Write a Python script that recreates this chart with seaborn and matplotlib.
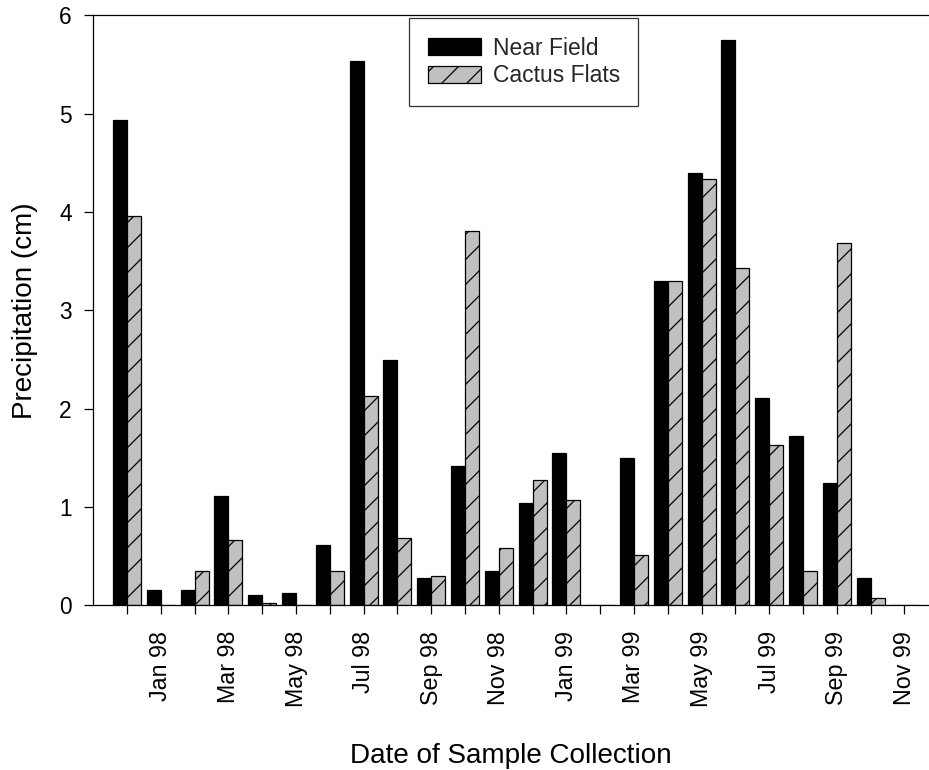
import matplotlib
matplotlib.use("Agg")
import matplotlib.pyplot as plt
from matplotlib.patches import Patch
import seaborn as sns
import pandas as pd

months = ["Dec 97", "Jan 98", "Feb 98", "Mar 98", "Apr 98", "May 98", "Jun 98",
          "Jul 98", "Aug 98", "Sep 98", "Oct 98", "Nov 98", "Dec 98", "Jan 99",
          "Feb 99", "Mar 99", "Apr 99", "May 99", "Jun 99", "Jul 99", "Aug 99",
          "Sep 99", "Oct 99", "Nov 99"]
near_field = [4.94, 0.15, 0.15, 1.11, 0.10, 0.12, 0.61, 5.54, 2.49, 0.28, 1.42, 0.35,
              1.04, 1.55, 0.0, 1.50, 3.30, 4.40, 5.75, 2.11, 1.72, 1.24, 0.28, 0.0]
cactus_flats = [3.96, 0.0, 0.35, 0.66, 0.02, 0.0, 0.35, 2.13, 0.68, 0.30, 3.81, 0.58,
                1.27, 1.07, 0.0, 0.51, 3.30, 4.34, 3.43, 1.63, 0.35, 3.68, 0.07, 0.0]
series = ["Near Field", "Cactus Flats"]
tick_labels = [m if i % 2 == 1 else "" for i, m in enumerate(months)]

df = pd.DataFrame({
    "month": months * 2,
    "precip": near_field + cactus_flats,
    "site": [series[0]] * len(months) + [series[1]] * len(months),
})

sns.set_theme(style="white")
plt.rcParams["font.family"] = ["Liberation Sans", "DejaVu Sans"]
plt.rcParams["hatch.color"] = "black"
plt.rcParams["hatch.linewidth"] = 0.6

DPI = 150
fig = plt.figure(figsize=(929 / DPI, 770 / DPI), dpi=DPI)
ax = fig.add_axes([93.3 / 929, 1 - 605.2 / 770, (929 - 93.3) / 929, (605.2 - 15.4) / 770])

GRAY = "#c0c0c0"
sns.barplot(data=df, x="month", y="precip", hue="site", order=months, hue_order=series,
            palette={series[0]: "black", series[1]: GRAY}, saturation=1, width=0.83,
            edgecolor="black", linewidth=0.6, ax=ax, legend=False)

for bar in ax.containers[1]:
    bar.set_hatch("//")

ax.set_xlim(-1, 23.73)
ax.set_ylim(0, 6)
ax.set_yticks(range(0, 7))
ax.set_yticklabels([str(v) for v in range(0, 7)], fontsize=10.9)
ax.set_xticks(range(len(months)))
ax.set_xticklabels(tick_labels, rotation=90, fontsize=11.2)

ax.tick_params(axis="both", direction="out", length=4.3, width=0.6, color="black",
               labelcolor="black")
ax.tick_params(axis="x", pad=8)
ax.tick_params(axis="y", pad=6)
ax.tick_params(left=True, bottom=True)

for s in ["left", "top", "bottom"]:
    ax.spines[s].set_visible(True)
    ax.spines[s].set_color("black")
    ax.spines[s].set_linewidth(0.6)
ax.spines["right"].set_visible(False)

ax.set_xlabel("Date of Sample Collection", fontsize=13.4, color="black", labelpad=17)
ax.set_ylabel("Precipitation (cm)", fontsize=13.4, color="black", labelpad=10)

handles = [Patch(facecolor="black", edgecolor="black", linewidth=0.6),
           Patch(facecolor=GRAY, edgecolor="black", linewidth=0.6, hatch="//")]
leg = ax.legend(handles, series, loc="upper left", bbox_to_anchor=(0.378, 0.995),
                fontsize=11, frameon=True, fancybox=False, shadow=False,
                handlelength=2.35, handleheight=0.8, borderpad=0.8, labelspacing=0.2,
                handletextpad=0.5, borderaxespad=0)
leg.get_frame().set_edgecolor("black")
leg.get_frame().set_linewidth(0.6)

fig.savefig("out.png", dpi=DPI, facecolor="white")
